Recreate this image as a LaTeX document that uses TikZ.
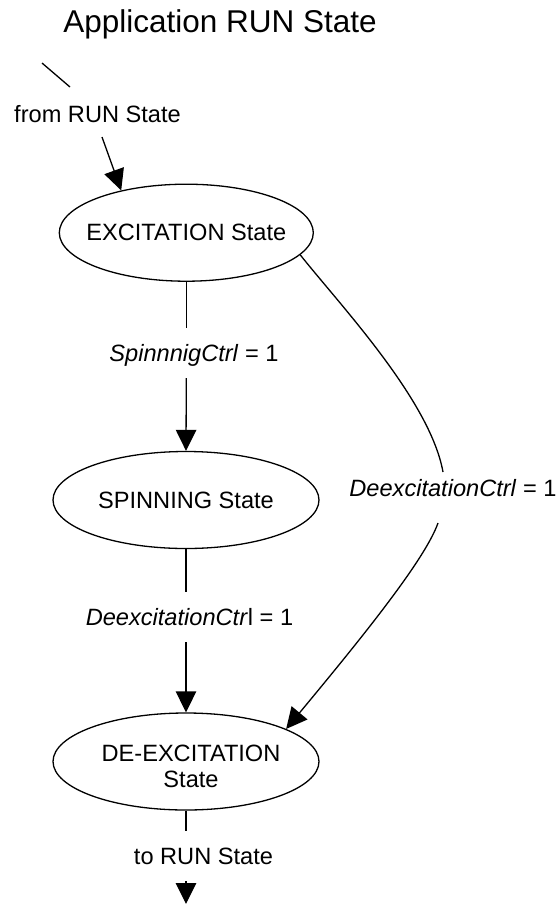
\documentclass[tikz,border=0pt]{standalone}
\usepackage{fontspec}
\setmainfont{Liberation Sans}
\usetikzlibrary{arrows.meta,shapes.geometric}
\begin{document}
\begin{tikzpicture}[x=1pt,y=-1pt,
  every node/.style={font=\fontsize{23.6}{26}\selectfont},
  statebox/.style={draw,ellipse,line width=1.3pt,inner sep=0pt,minimum width=#1,minimum height=97pt},
  lab/.style={inner xsep=1pt,inner ysep=14pt,text height=19pt,text depth=3pt,anchor=base},
  conn/.style={line width=1.3pt},
  arr/.style={conn,-{Triangle[length=21pt,width=20.5pt]}}
]
\useasboundingbox (0,0) rectangle (558,906);
\node[font=\fontsize{31.5}{36}\selectfont,anchor=base] (title) at (220,32) {Application RUN State};

\coordinate (c0) at (42,63);
\coordinate (c1) at (70,87);
\coordinate (c2) at (102,137);
\coordinate (r1) at (443,472);
\coordinate (r2) at (438,523);
\coordinate (endpt) at (186,904);

\node[lab] (from) at (97.5,122) {from RUN State};
\node[statebox=254pt] (exc) at (186.3,232.7) {\makebox[0pt]{EXCITATION State}};
\node[lab] (l1) at (194,361) {\textit{SpinnnigCtrl} = 1};
\node[statebox=266pt] (spin) at (186,500) {\makebox[0pt]{SPINNING State}};
\node[lab] (l2) at (189.5,625) {\textit{DeexcitationCtr}l = 1};
\node[statebox=266pt] (dex) at (186,761.5) {\makebox[0pt]{\hspace{10pt}\smash{\begin{tabular}[t]{@{}c@{}}DE-EXCITATION\\State\end{tabular}}}};
\node[lab] (l3) at (203.5,864) {to RUN State};
\node[anchor=base] (lr) at (453,496) {\textit{DeexcitationCtrl} = 1};

\draw[conn] (c0) -- (c1);
\draw[arr] (c2) -- (exc.147.6);
\draw[conn] (exc.south) -- (exc.south |- l1.north);
\draw[arr] (exc.south |- l1.south) -- (spin.north);
\draw[conn] (spin.south) -- (spin.south |- l2.north);
\draw[arr] (spin.south |- l2.south) -- (dex.north);
\draw[conn] (dex.south) -- (dex.south |- l3.north);
\draw[arr] (dex.south |- l3.south) -- (endpt);
\draw[conn] (exc.-11.6) .. controls (340,305) and (430,400) .. (r1);
\draw[arr] (r2) .. controls (425,560) and (360,640) .. (dex.18.9);
\end{tikzpicture}
\end{document}
